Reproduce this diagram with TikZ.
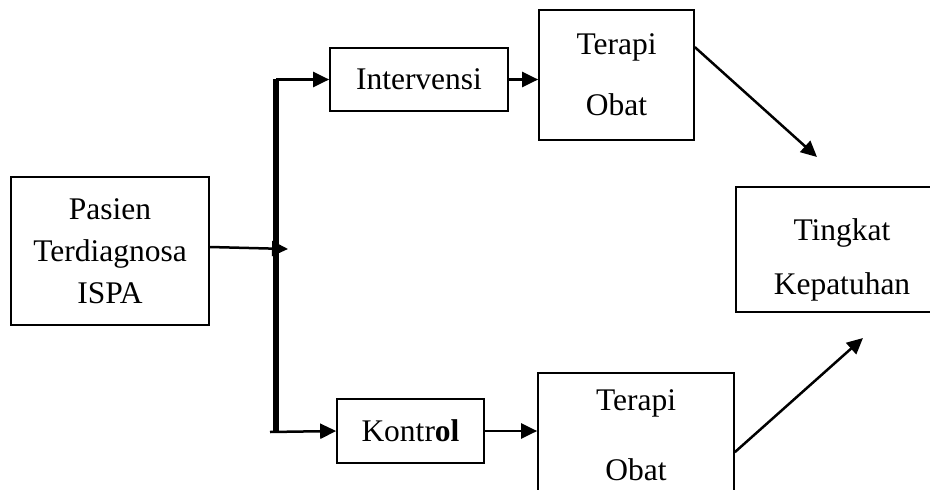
\documentclass[tikz,border=0pt]{standalone}
\usepackage{fontspec}
\setmainfont{Liberation Serif}
\usetikzlibrary{arrows.meta}

\begin{document}
\begin{tikzpicture}[x=1pt, y=-1pt,
	kotak/.style={draw, line width=1.7pt, align=center, inner sep=0pt, font=\fontsize{31.5}{42}\selectfont},
	panah/.style={line width=2.5pt, -{Triangle[length=16pt,width=15pt]}}]
				\useasboundingbox (0,0) rectangle (930,490);
				\node[kotak, minimum width=198pt, minimum height=148pt] (pasien) at (110,251) {Pasien\\Terdiagnosa\\ISPA};
				\node[kotak, minimum width=178pt, minimum height=63pt] (interv) at (419,79.5) {Intervensi};
				\node[kotak, minimum width=155pt, minimum height=130pt] (terapiA) at (616.5,75) {Terapi\\[19pt]Obat};
				\node[kotak, minimum width=147pt, minimum height=64pt] (kontrol) at (410.5,431) {Kontr\textbf{ol}};
				\node[kotak, minimum width=196pt, minimum height=124pt] (terapiB) at (636,435) {Terapi\\[28pt]Obat};
				\node[kotak, minimum width=212pt, minimum height=125pt] (tingkat) at (842,249.5) {\rule{0pt}{42pt}Tingkat\\[12pt]Kepatuhan};
				\coordinate (batang1) at (276,79);
				\coordinate (batang2) at (276,432);
				\coordinate (masuk) at (288,249);
				\coordinate (ujungA) at (817,157);
				\coordinate (ujungB) at (863,338);
				\draw[line width=6pt] (batang1) -- (batang2);
				\draw[panah] ([yshift=4pt]pasien.east) -- (masuk);
				\draw[panah] (batang1 |- interv.west) -- (interv.west);
				\draw[panah] ([xshift=-6pt]batang2) -- (kontrol.west);
				\draw[panah] (interv.east) -- (interv.east -| terapiA.west);
				\draw[panah] (kontrol.east) -- (kontrol.east -| terapiB.west);
				\draw[panah] ([yshift=-38pt]terapiA.north east) -- (ujungA);
				\draw[panah] ([yshift=-80pt]terapiB.north east) -- (ujungB);
\end{tikzpicture}
\end{document}
